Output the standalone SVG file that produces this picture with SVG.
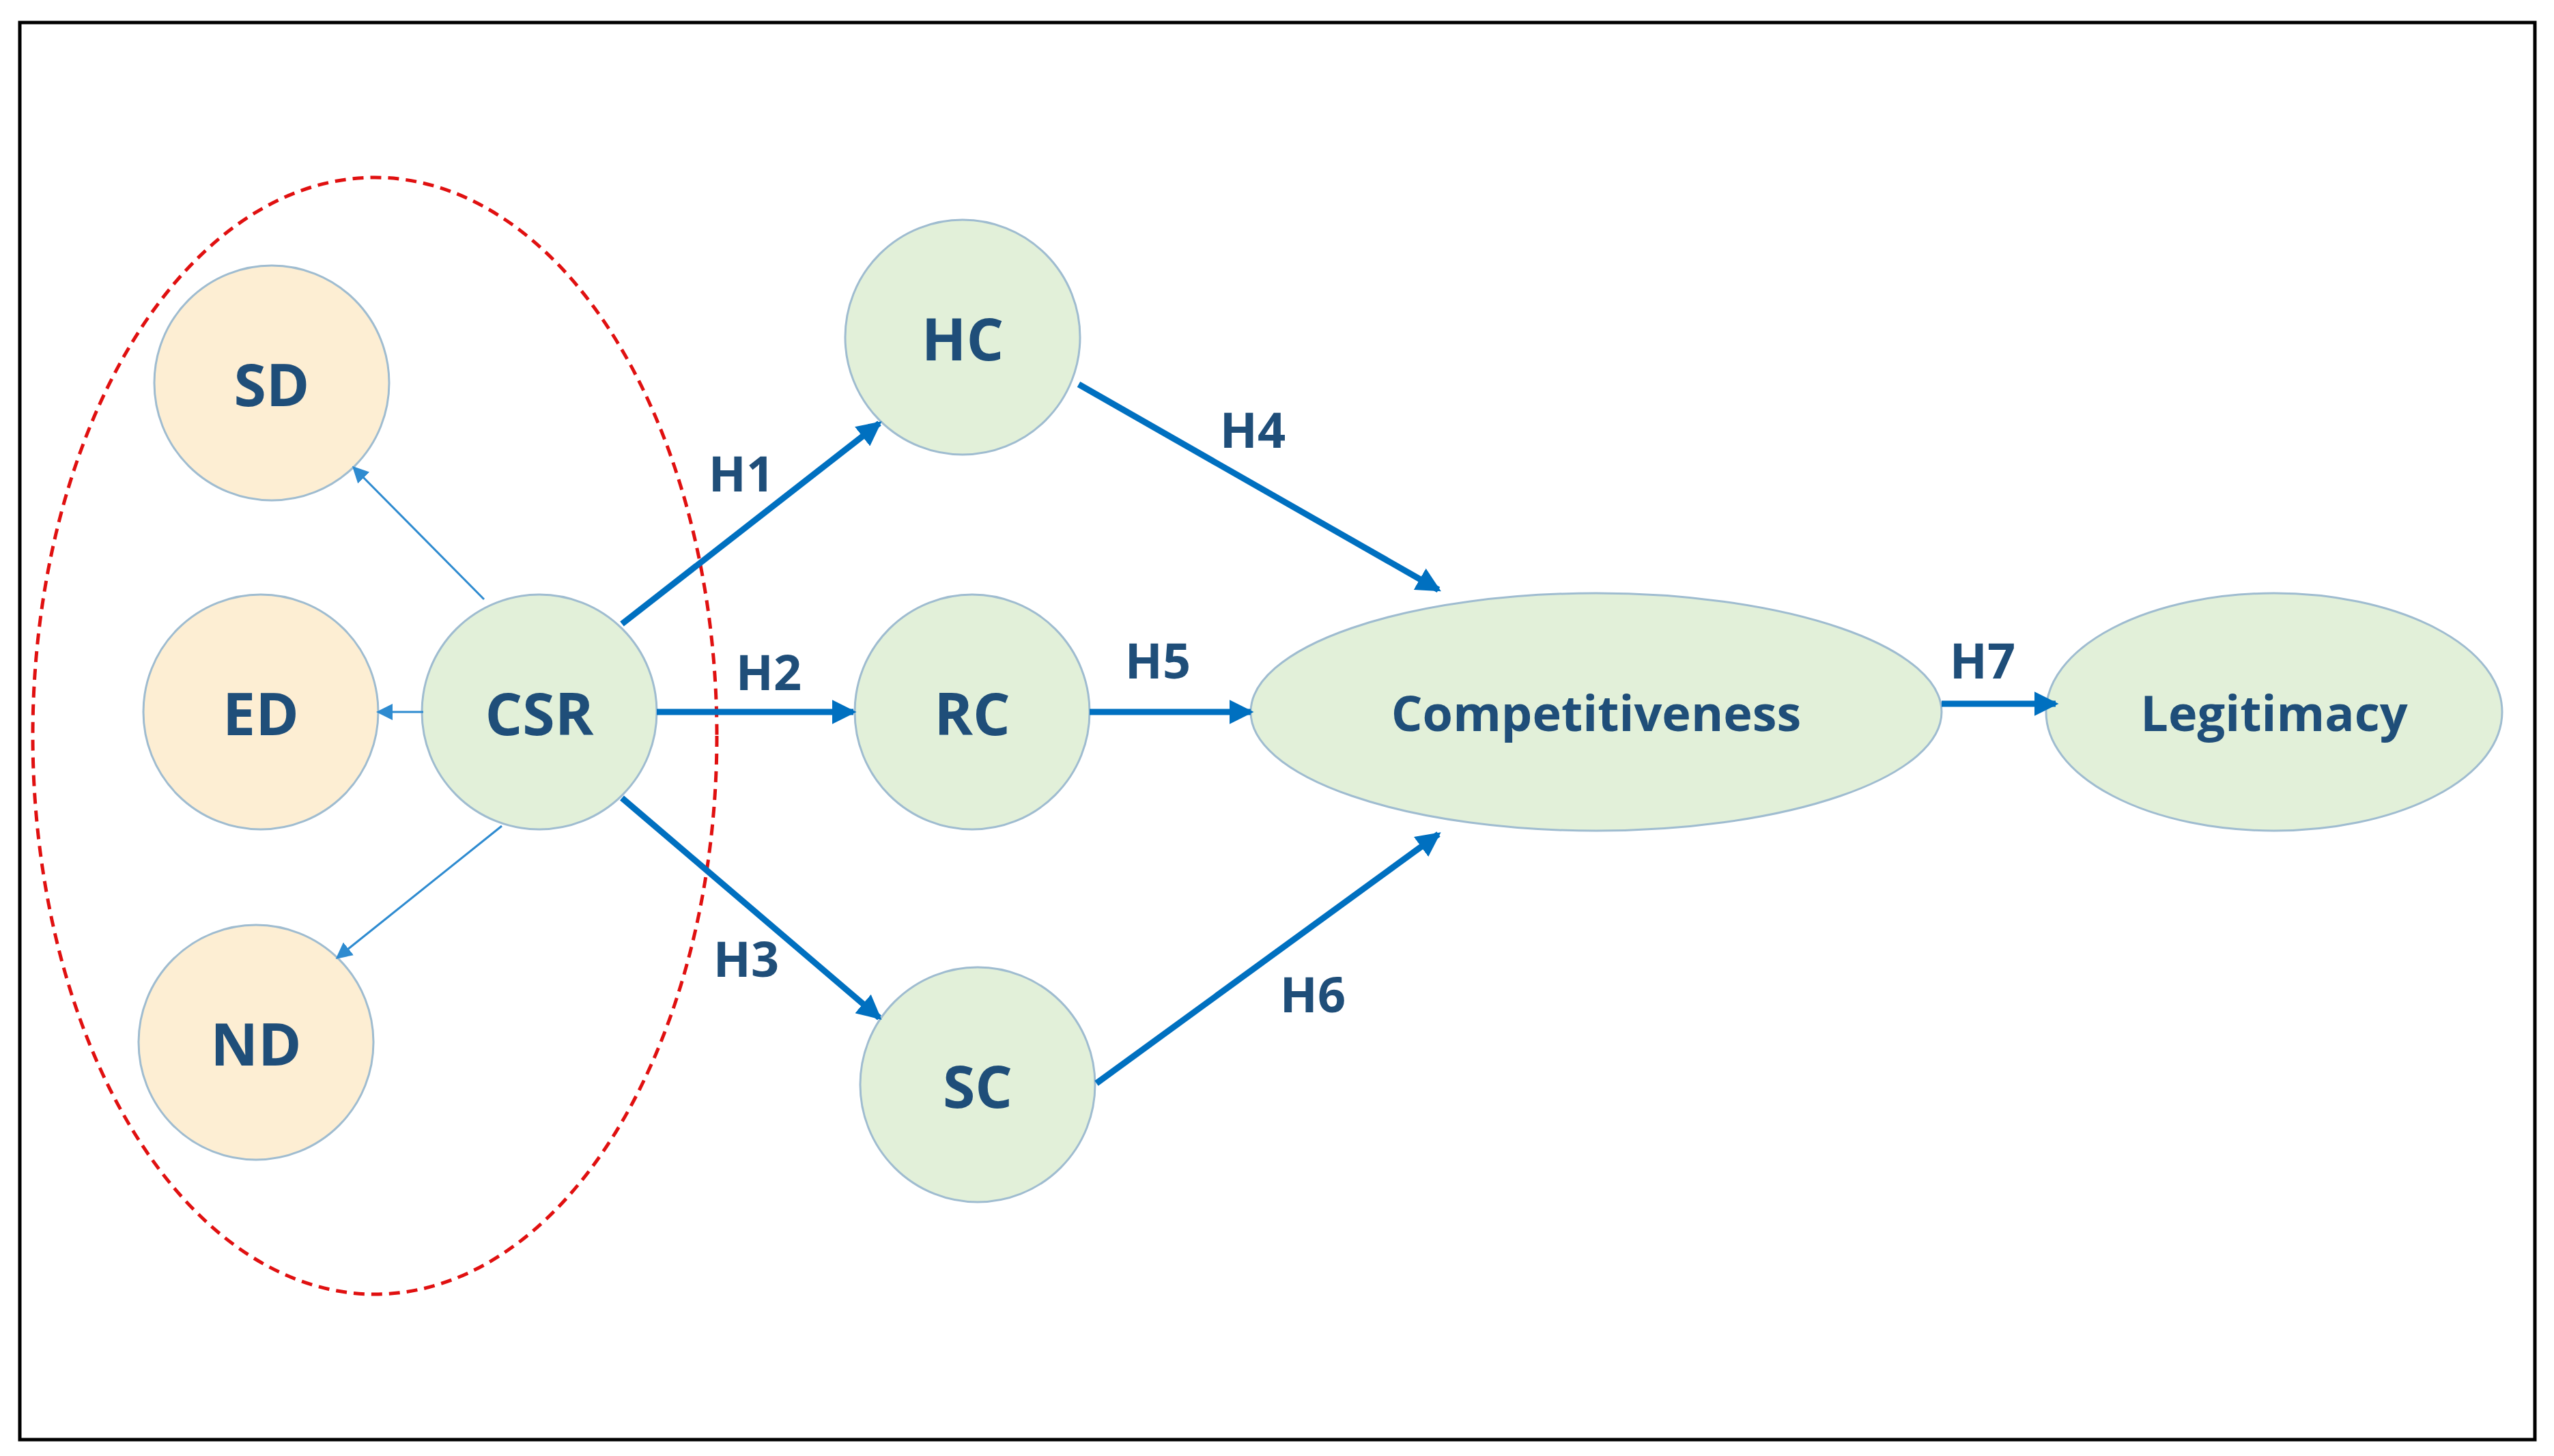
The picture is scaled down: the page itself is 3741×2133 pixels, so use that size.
<svg xmlns="http://www.w3.org/2000/svg" width="3741" height="2133" viewBox="0 0 3741 2133">
<style>
.g{fill:#e2f0d9;stroke:#9fbcd0;stroke-width:3}
.o{fill:#fdeed3;stroke:#9fbcd0;stroke-width:3}
.t{font-family:"Open Sans","Liberation Sans",sans-serif;font-weight:bold;fill:#1f4e79;text-anchor:middle;dominant-baseline:central}
.n{font-size:86px}
.w{font-size:72px}
.a{stroke:#0070c0;stroke-width:9;fill:none;marker-end:url(#m)}
.s{stroke:#2e8bd0;stroke-width:3;fill:none;marker-end:url(#ms)}
</style>
<defs>
<marker id="m" markerWidth="4" markerHeight="4" refX="3.5" refY="2" orient="auto"><path d="M0,0L4,2L0,4z" fill="#0070c0"/></marker>
<marker id="ms" markerWidth="8" markerHeight="8" refX="7" refY="4" orient="auto"><path d="M0,0L8,4L0,8z" fill="#2e8bd0"/></marker>
</defs>
<rect width="3741" height="2133" fill="#fff"/>
<rect x="29" y="33" width="3684" height="2076" fill="none" stroke="#000" stroke-width="5"/>
<ellipse cx="549" cy="1078" rx="501" ry="818" fill="none" stroke="#e01010" stroke-width="5" stroke-dasharray="16,10"/>
<g id="SD"><circle class="o" cx="398" cy="561" r="172"/><text class="t n" x="398" y="561">SD</text></g>
<g id="ED"><circle class="o" cx="382" cy="1043" r="172"/><text class="t n" x="382" y="1043">ED</text></g>
<g id="ND"><circle class="o" cx="375" cy="1527" r="172"/><text class="t n" x="375" y="1527">ND</text></g>
<g id="CSR"><circle class="g" cx="790" cy="1043" r="172"/><text class="t n" x="790" y="1043">CSR</text></g>
<g id="HC"><circle class="g" cx="1410" cy="494" r="172"/><text class="t n" x="1410" y="494">HC</text></g>
<g id="RC"><circle class="g" cx="1424" cy="1043" r="172"/><text class="t n" x="1424" y="1043">RC</text></g>
<g id="SC"><circle class="g" cx="1432" cy="1589" r="172"/><text class="t n" x="1432" y="1589">SC</text></g>
<g id="Comp"><ellipse class="g" cx="2338" cy="1043" rx="506" ry="174"/><text class="t w" x="2338" y="1043">Competitiveness</text></g>
<g id="Leg"><ellipse class="g" cx="3331" cy="1043" rx="334" ry="174"/><text class="t w" x="3331" y="1043">Legitimacy</text></g>
<g id="connectors">
<line class="s" x1="709" y1="878" x2="518" y2="685"/>
<line class="s" x1="620" y1="1043" x2="554" y2="1043"/>
<line class="s" x1="735" y1="1210" x2="494" y2="1403"/>
<line class="a" x1="911" y1="914" x2="1288" y2="620"/>
<line class="a" x1="962" y1="1043" x2="1250" y2="1043"/>
<line class="a" x1="911" y1="1169" x2="1288" y2="1491"/>
<line class="a" x1="1580" y1="563" x2="2107" y2="864"/>
<line class="a" x1="1596" y1="1043" x2="1832" y2="1043"/>
<line class="a" x1="1606" y1="1587" x2="2107" y2="1222"/>
<line class="a" x1="2844" y1="1031" x2="3011" y2="1031"/>
<text class="t w" x="1086" y="692">H1</text>
<text class="t w" x="1126" y="983">H2</text>
<text class="t w" x="1093" y="1403">H3</text>
<text class="t w" x="1835" y="628">H4</text>
<text class="t w" x="1696" y="966">H5</text>
<text class="t w" x="1923" y="1455">H6</text>
<text class="t w" x="2904" y="966">H7</text>
</g>
</svg>
